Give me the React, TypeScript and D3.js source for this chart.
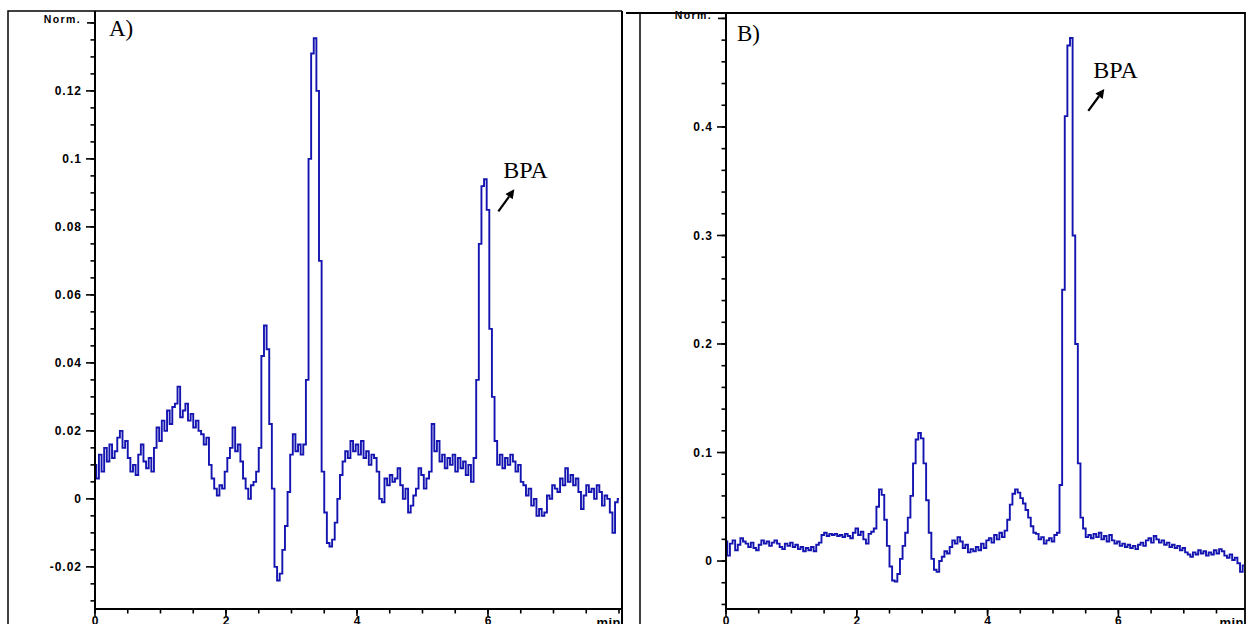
import React from "react";
import * as d3 from "d3";

const DT = 0.04;

// Panel A trace (Norm.), t = 0 .. 8.0 min
const seriesA = [
  0.010, 0.006, 0.013, 0.008, 0.015, 0.011, 0.016, 0.012, 0.014, 0.018, 0.020,
  0.015, 0.017, 0.012, 0.008, 0.010, 0.007, 0.013, 0.016, 0.011, 0.009,
  0.012, 0.008, 0.015, 0.021, 0.017, 0.023, 0.020, 0.026, 0.022, 0.027,
  0.028, 0.033, 0.024, 0.026, 0.028, 0.023, 0.025, 0.021, 0.023, 0.020,
  0.019, 0.016, 0.018, 0.010, 0.006, 0.003, 0.001, 0.004, 0.003, 0.008,
  0.012, 0.015, 0.021, 0.014, 0.016, 0.011, 0.006, 0.003, 0.000, 0.004,
  0.005, 0.008, 0.015, 0.042, 0.051, 0.044, 0.022, 0.003, -0.020, -0.024,
  -0.022, -0.015, -0.008, 0.002, 0.013, 0.019, 0.014, 0.016, 0.013, 0.016,
  0.035, 0.100, 0.131, 0.1355, 0.120, 0.070, 0.008, -0.004, -0.013, -0.014,
  -0.012, -0.007, 0.000, 0.007, 0.011, 0.014, 0.012, 0.017, 0.014, 0.016,
  0.013, 0.017, 0.012, 0.014, 0.010, 0.013, 0.012, 0.008, 0.000, -0.001,
  0.006, 0.004, 0.007, 0.005, 0.006, 0.009, 0.004, 0.000, 0.003, -0.004,
  -0.002, 0.001, 0.003, 0.009, 0.007, 0.003, 0.006, 0.008, 0.022, 0.014,
  0.017, 0.011, 0.013, 0.009, 0.012, 0.010, 0.013, 0.008, 0.012, 0.009,
  0.011, 0.007, 0.010, 0.005, 0.012, 0.035, 0.075, 0.092, 0.094, 0.085,
  0.050, 0.030, 0.017, 0.010, 0.013, 0.009, 0.012, 0.010, 0.013, 0.011,
  0.008, 0.010, 0.005, 0.004, 0.001, 0.003, -0.002, 0.000, -0.005, -0.003,
  -0.005, -0.004, 0.001, 0.000, 0.004, 0.003, 0.002, 0.006, 0.004, 0.009,
  0.005, 0.007, 0.004, 0.006, 0.002, -0.003, 0.001, 0.004, 0.002, 0.003,
  0.000, 0.004, 0.002, -0.002, 0.001, 0.000, -0.004, -0.010, -0.001, 0.000,
];

// Panel B trace (Norm.), t = 0 .. 7.92 min
const seriesB = [
  0.018, 0.005, 0.016, 0.019, 0.010, 0.015, 0.021, 0.018, 0.016, 0.013,
  0.017, 0.012, 0.010, 0.015, 0.019, 0.016, 0.018, 0.014, 0.017, 0.019,
  0.016, 0.013, 0.011, 0.016, 0.014, 0.017, 0.013, 0.015, 0.011, 0.013,
  0.009, 0.012, 0.010, 0.013, 0.009, 0.015, 0.017, 0.024, 0.026, 0.023,
  0.025, 0.024, 0.025, 0.023, 0.024, 0.022, 0.025, 0.023, 0.021, 0.026,
  0.030, 0.024, 0.027, 0.020, 0.016, 0.025, 0.027, 0.030, 0.050, 0.066,
  0.061, 0.038, 0.014, -0.005, -0.018, -0.019, -0.012, 0.002, 0.014, 0.026,
  0.040, 0.060, 0.090, 0.112, 0.118, 0.113, 0.090, 0.056, 0.026, 0.002,
  -0.008, -0.010, 0.000, 0.004, 0.009, 0.007, 0.013, 0.019, 0.016, 0.022,
  0.018, 0.012, 0.015, 0.008, 0.011, 0.009, 0.013, 0.010, 0.016, 0.012,
  0.019, 0.021, 0.017, 0.024, 0.020, 0.026, 0.022, 0.028, 0.038, 0.052,
  0.062, 0.066, 0.063, 0.058, 0.053, 0.047, 0.040, 0.032, 0.026, 0.025,
  0.020, 0.022, 0.016, 0.019, 0.021, 0.018, 0.024, 0.026, 0.070, 0.250,
  0.410, 0.475, 0.482, 0.300, 0.200, 0.090, 0.040, 0.030, 0.022, 0.024,
  0.021, 0.025, 0.022, 0.026, 0.020, 0.023, 0.018, 0.024, 0.019, 0.016,
  0.018, 0.014, 0.016, 0.013, 0.015, 0.012, 0.014, 0.011, 0.015, 0.017,
  0.014, 0.019, 0.021, 0.017, 0.023, 0.020, 0.017, 0.019, 0.015, 0.017,
  0.013, 0.015, 0.012, 0.014, 0.010, 0.012, 0.008, 0.006, 0.004, 0.008,
  0.006, 0.010, 0.007, 0.009, 0.005, 0.008, 0.006, 0.010, 0.007, 0.011,
  0.009, 0.005, 0.003, 0.006, 0.001, 0.003, -0.002, -0.010, -0.004,
];

const yTicksA = [-0.02, 0, 0.02, 0.04, 0.06, 0.08, 0.1, 0.12];
const yTickLabelsA = ["-0.02", "0", "0.02", "0.04", "0.06", "0.08", "0.1", "0.12"];
const yTicksB = [0, 0.1, 0.2, 0.3, 0.4];
const yTickLabelsB = ["0", "0.1", "0.2", "0.3", "0.4"];
const xTicks = [0, 2, 4, 6];
const xTickLabels = ["0", "2", "4", "6"];
const unitLabel = "Norm.";
const timeLabel = "min";
const panelLabels = ["A)", "B)"];
const peakLabel = "BPA";
const peakTimes = [5.96, 5.28];
const peakValues = [0.094, 0.482];

type PanelProps = {
  series: number[];
  xDomain: [number, number];
  yDomain: [number, number];
  left: number;
  right: number;
  top: number;
  bottom: number;
  yTicks: number[];
  yTickLabels: string[];
  yMinorStep: number;
  normValue: number;
  label: string;
  labelPos: [number, number];
  peakIdx: number;
  peakOffset: [number, number];
};

const LINE = "#1414b0";

function Panel(p: PanelProps) {
  const x = d3.scaleLinear().domain(p.xDomain).range([p.left, p.right]);
  const y = d3.scaleLinear().domain(p.yDomain).range([p.bottom, p.top]);
  const line = d3
    .line<number>()
    .x((_, i) => x(i * DT))
    .y((v) => y(v))
    .curve(d3.curveStep);
  const minorY = d3
    .range(Math.ceil(p.yDomain[0] / p.yMinorStep), Math.floor(p.yDomain[1] / p.yMinorStep) + 1)
    .map((k) => k * p.yMinorStep);
  const minorX = d3.range(0, Math.floor(p.xDomain[1] / 0.5) + 1).map((k) => k * 0.5);
  const tickFont = { fontFamily: "Liberation Sans, Arial, sans-serif", fontWeight: 700 };
  const px = x(peakTimes[p.peakIdx]);
  const py = y(peakValues[p.peakIdx]);
  const tx = px + p.peakOffset[0];
  const ty = py + p.peakOffset[1];
  const ax0 = tx - 5;
  const ay0 = ty + 33;
  const ax1 = tx + 11;
  const ay1 = ty + 11;
  const ang = Math.atan2(ay1 - ay0, ax1 - ax0);
  const hl = 9;
  const hw = 4.5;
  const bx = ax1 - hl * Math.cos(ang);
  const by = ay1 - hl * Math.sin(ang);
  const head = [
    [ax1, ay1],
    [bx + hw * Math.sin(ang), by - hw * Math.cos(ang)],
    [bx - hw * Math.sin(ang), by + hw * Math.cos(ang)],
  ]
    .map((d) => d.join(","))
    .join(" ");

  return (
    <g>
      <defs>
        <clipPath id={"clip" + p.label[0]}>
          <rect x={p.left} y={p.top} width={p.right - p.left} height={p.bottom - p.top} />
        </clipPath>
      </defs>
      {minorY.map((v, i) => (
        <line key={"my" + i} x1={p.left - 4.5} x2={p.left} y1={y(v)} y2={y(v)} stroke="#000" strokeWidth={1.6} />
      ))}
      {p.yTicks.map((v, i) => (
        <g key={"Y" + i}>
          <line x1={p.left - 9} x2={p.left} y1={y(v)} y2={y(v)} stroke="#000" strokeWidth={1.6} />
          <text
            x={p.left - 13}
            y={y(v) + 4.3}
            textAnchor="end"
            fontSize={12}
            letterSpacing={1}
            style={tickFont}
          >
            {p.yTickLabels[i]}
          </text>
        </g>
      ))}
      <line x1={p.left - 8} x2={p.left} y1={y(p.normValue)} y2={y(p.normValue)} stroke="#000" strokeWidth={1.6} />
      <text
        x={p.left - 14}
        y={y(p.normValue) + 0.5}
        textAnchor="end"
        fontSize={10.5}
        letterSpacing={1.4}
        style={tickFont}
      >
        {unitLabel}
      </text>
      {minorX.map((v, i) => (
        <line key={"mx" + i} x1={x(v)} x2={x(v)} y1={p.bottom} y2={p.bottom + 4.5} stroke="#000" strokeWidth={1.6} />
      ))}
      {xTicks.map((v, i) => (
        <g key={"X" + i}>
          <line x1={x(v)} x2={x(v)} y1={p.bottom} y2={p.bottom + 7} stroke="#000" strokeWidth={1.6} />
          <text x={x(v)} y={p.bottom + 16} textAnchor="middle" fontSize={12} style={tickFont}>
            {xTickLabels[i]}
          </text>
        </g>
      ))}
      <text x={p.right - 1} y={p.bottom + 18} textAnchor="end" fontSize={13} letterSpacing={0.5} style={tickFont}>
        {timeLabel}
      </text>
      <path
        d={line(p.series) || ""}
        fill="none"
        stroke={LINE}
        strokeWidth={1.9}
        strokeLinejoin="miter"
        clipPath={`url(#clip${p.label[0]})`}
      />
      <line x1={p.left} x2={p.left} y1={p.top} y2={p.bottom + 1} stroke="#000" strokeWidth={2} />
      <line x1={p.left - 1} x2={p.right} y1={p.bottom} y2={p.bottom} stroke="#000" strokeWidth={2} />
      <text
        x={p.labelPos[0]}
        y={p.labelPos[1]}
        fontSize={23}
        style={{ fontFamily: "Liberation Serif, Times New Roman, serif" }}
      >
        {p.label}
      </text>
      <text x={tx} y={ty} fontSize={24} style={{ fontFamily: "Liberation Serif, Times New Roman, serif" }}>
        {peakLabel}
      </text>
      <line x1={ax0} y1={ay0} x2={bx} y2={by} stroke="#000" strokeWidth={2.2} />
      <polygon points={head} fill="#000" />
    </g>
  );
}

export default function App() {
  return (
    <svg
      width={1250}
      height={624}
      style={{ position: "fixed", left: 0, top: 0, background: "#fff" }}
      xmlns="http://www.w3.org/2000/svg"
    >
      <rect x={0} y={0} width={1250} height={624} fill="#fff" />
      <polyline points="8,624 8,11 622,11" fill="none" stroke="#000" strokeWidth={1.5} />
      <line x1={622} y1={11} x2={622} y2={624} stroke="#000" strokeWidth={2} />
      <polyline points="626,13 1245,13 1245,624" fill="none" stroke="#000" strokeWidth={1.8} />
      <line x1={640} y1={13} x2={640} y2={624} stroke="#000" strokeWidth={1.5} />
      <Panel
        series={seriesA}
        xDomain={[0, 8.046]}
        yDomain={[-0.0324, 0.1435]}
        left={95}
        right={622}
        top={11}
        bottom={609}
        yTicks={yTicksA}
        yTickLabels={yTickLabelsA}
        yMinorStep={0.005}
        normValue={0.14}
        label={panelLabels[0]}
        labelPos={[109, 36]}
        peakIdx={0}
        peakOffset={[18, -1]}
      />
      <Panel
        series={seriesB}
        xDomain={[0, 7.936]}
        yDomain={[-0.0442, 0.505]}
        left={726}
        right={1245}
        top={13}
        bottom={609}
        yTicks={yTicksB}
        yTickLabels={yTickLabelsB}
        yMinorStep={0.02}
        normValue={0.5}
        label={panelLabels[1]}
        labelPos={[737, 41]}
        peakIdx={1}
        peakOffset={[22, 40]}
      />
    </svg>
  );
}
